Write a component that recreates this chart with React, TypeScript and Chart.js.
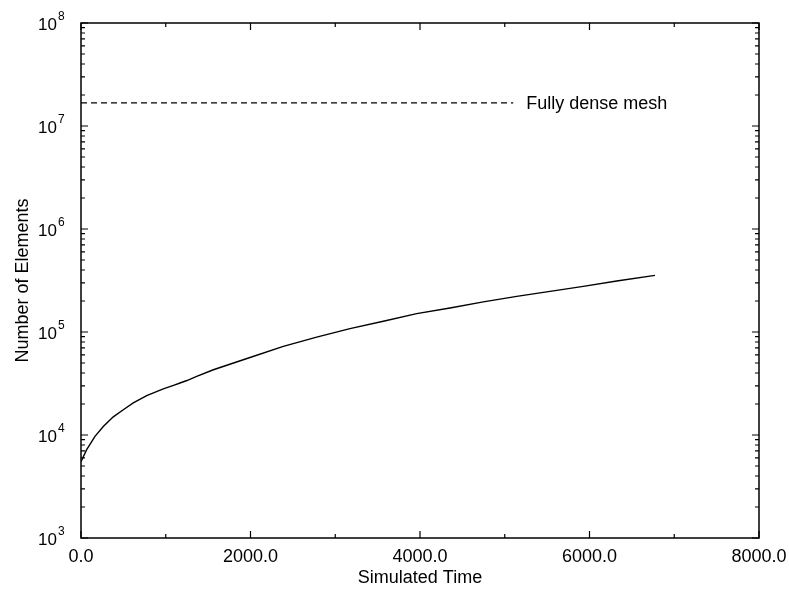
import React, { useEffect, useRef } from "react";
import { Chart, registerables } from "chart.js";

Chart.register(...registerables);

// Simulated time (x) and number of elements (y)
const timeValues = [0, 67, 165, 263, 381, 499, 617, 775, 971, 1100, 1168, 1250, 1365, 1562, 1994, 2387, 2781, 3174, 3567, 3961, 4354, 4747, 5141, 5534, 5927, 6321, 6773];
const elementValues = [5500, 7200, 9700, 12100, 15000, 17600, 20500, 24100, 28000, 30500, 32000, 33800, 37100, 43000, 56500, 72500, 89300, 108000, 127000, 151000, 171000, 196000, 222000, 248000, 277000, 313000, 355000];

// Fully dense mesh reference line
const denseMeshValue = 16777216;
const denseMeshRange = [0, 5100];
const denseMeshLabel = "Fully dense mesh";

const xTicks = [0, 2000, 4000, 6000, 8000];
const xMinorTicks = [1000, 3000, 5000, 7000];
const yExponents = [3, 4, 5, 6, 7, 8];

const xTitle = "Simulated Time";
const yTitle = "Number of Elements";

const FONT = "'Liberation Sans', Arial, Helvetica, sans-serif";

const framePlugin = {
  id: "frame",
  afterDraw(chart: any) {
    const { ctx, chartArea } = chart;
    const xs = chart.scales.x;
    const ys = chart.scales.y;
    const { left, right, top, bottom } = chartArea;
    ctx.save();
    ctx.strokeStyle = "#000";
    ctx.lineWidth = 1.5;
    ctx.strokeRect(left, top, right - left, bottom - top);

    ctx.lineWidth = 1.2;
    ctx.beginPath();
    // x ticks (bottom and top, inward)
    for (const v of xTicks) {
      const px = xs.getPixelForValue(v);
      ctx.moveTo(px, bottom); ctx.lineTo(px, bottom - 7);
      ctx.moveTo(px, top); ctx.lineTo(px, top + 7);
    }
    for (const v of xMinorTicks) {
      const px = xs.getPixelForValue(v);
      ctx.moveTo(px, bottom); ctx.lineTo(px, bottom - 4);
      ctx.moveTo(px, top); ctx.lineTo(px, top + 4);
    }
    // y ticks (left and right, inward)
    for (const e of yExponents) {
      const py = ys.getPixelForValue(Math.pow(10, e));
      ctx.moveTo(left, py); ctx.lineTo(left + 7, py);
      ctx.moveTo(right, py); ctx.lineTo(right - 7, py);
      if (e < yExponents[yExponents.length - 1]) {
        for (let m = 2; m <= 9; m++) {
          const pm = ys.getPixelForValue(m * Math.pow(10, e));
          ctx.moveTo(left, pm); ctx.lineTo(left + 4, pm);
          ctx.moveTo(right, pm); ctx.lineTo(right - 4, pm);
        }
      }
    }
    ctx.stroke();

    // y tick labels: 10 with superscript exponent
    ctx.fillStyle = "#000";
    for (const e of yExponents) {
      const py = ys.getPixelForValue(Math.pow(10, e));
      ctx.font = `17px ${FONT}`;
      ctx.textAlign = "right";
      ctx.textBaseline = "middle";
      ctx.fillText("10", 57, py + 2);
      ctx.font = `12px ${FONT}`;
      ctx.textAlign = "left";
      ctx.fillText(String(e), 58, py - 6);
    }

    // dense mesh label
    const lx = xs.getPixelForValue(denseMeshRange[1]);
    const ly = ys.getPixelForValue(denseMeshValue);
    ctx.font = `18px ${FONT}`;
    ctx.textAlign = "left";
    ctx.textBaseline = "middle";
    ctx.fillText(denseMeshLabel, lx + 13, ly + 1);
    ctx.restore();
  },
};

export default function App() {
  const canvasRef = useRef<HTMLCanvasElement | null>(null);

  useEffect(() => {
    if (!canvasRef.current) return;
    const chart = new Chart(canvasRef.current, {
      type: "line",
      data: {
        datasets: [
          {
            label: "Elements",
            data: timeValues.map((t, i) => ({ x: t, y: elementValues[i] })),
            borderColor: "#000",
            borderWidth: 1.4,
            pointRadius: 0,
            tension: 0,
            fill: false,
          },
          {
            label: denseMeshLabel,
            data: denseMeshRange.map((t) => ({ x: t, y: denseMeshValue })),
            borderColor: "#000",
            borderWidth: 1.3,
            borderDash: [6, 4],
            pointRadius: 0,
            fill: false,
          },
        ],
      },
      options: {
        animation: false,
        responsive: false,
        maintainAspectRatio: false,
        layout: { padding: { left: 0, right: 30, top: 23, bottom: 0 } },
        plugins: { legend: { display: false }, tooltip: { enabled: false } },
        scales: {
          x: {
            type: "linear",
            min: 0,
            max: 8000,
            afterBuildTicks: (scale: any) => {
              scale.ticks = xTicks.map((v) => ({ value: v }));
            },
            afterFit: (scale: any) => {
              scale.height = 51;
              scale.paddingLeft = 0;
              scale.paddingRight = 0;
            },
            grid: { display: false, drawTicks: false },
            border: { display: false },
            ticks: {
              color: "#000",
              font: { family: FONT, size: 18 },
              padding: 8,
              maxRotation: 0,
              callback: (v: any) => Number(v).toFixed(1),
            },
            title: {
              display: true,
              text: xTitle,
              color: "#000",
              font: { family: FONT, size: 18 },
              padding: { top: 0, bottom: 0 },
            },
          },
          y: {
            type: "logarithmic",
            min: 1000,
            max: 1e8,
            afterFit: (scale: any) => {
              scale.width = 81;
              scale.paddingTop = 0;
              scale.paddingBottom = 0;
            },
            grid: { display: false, drawTicks: false },
            border: { display: false },
            ticks: { display: false },
            title: {
              display: true,
              text: yTitle,
              color: "#000",
              font: { family: FONT, size: 18 },
              padding: { top: 12, bottom: 0 },
            },
          },
        },
      },
      plugins: [framePlugin],
    });
    return () => chart.destroy();
  }, []);

  return (
    <div style={{ position: "fixed", left: 0, top: 0, width: 789, height: 589, background: "#fff" }}>
      <canvas ref={canvasRef} width={789} height={589} style={{ display: "block" }} />
    </div>
  );
}
